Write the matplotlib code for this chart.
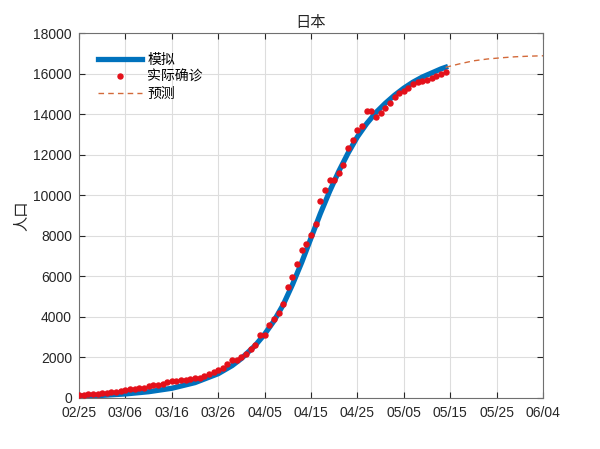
import numpy as np
import pandas as pd
import matplotlib
matplotlib.use("Agg")
import matplotlib.pyplot as plt
import matplotlib.dates as mdates

plt.rcParams['font.family'] = ['Liberation Sans', 'Noto Sans CJK SC', 'DejaVu Sans']

start_date = '2020-02-25'

# 实际确诊 (one value per day from 02/25)
confirmed = [150, 165, 185, 205, 220, 235, 255, 275, 300, 345,
             400, 420, 460, 500, 515, 580, 640, 650, 700, 770,
             830, 840, 875, 890, 925, 965, 1010, 1090, 1190, 1300,
             1390, 1470, 1700, 1860, 1870, 2000, 2150, 2420, 2620, 3100,
             3100, 3620, 3880, 4220, 4620, 5500, 5960, 6600, 7330, 7610,
             8060, 8590, 9750, 10270, 10770, 10780, 11110, 11520, 12350, 12760,
             13240, 13440, 14150, 14150, 13870, 14070, 14310, 14560, 14840, 15060,
             15150, 15330, 15500, 15600, 15640, 15720, 15800, 15880, 16010, 16120]

# 模拟 (day offset, value)
fit_days = [0, 5, 10, 15, 20, 25, 30, 33, 35, 38, 40, 42, 44, 46, 48, 50,
            52, 54, 56, 58, 60, 62, 64, 66, 68, 70, 72, 74, 76, 78, 79]
fit_vals = [90, 130, 200, 310, 480, 760, 1200, 1600, 1950, 2600, 3150, 3800,
            4600, 5600, 6700, 7900, 9100, 10200, 11200, 12100, 12900, 13550,
            14100, 14550, 14950, 15300, 15600, 15850, 16050, 16250, 16330]

# 预测 (day offset, value)
pred_days = [79, 82, 85, 88, 91, 94, 97, 100]
pred_vals = [16330, 16500, 16650, 16740, 16800, 16850, 16880, 16900]

t0 = pd.Timestamp(start_date)
conf_dates = pd.date_range(start_date, periods=len(confirmed), freq='D')
fit_dates = [t0 + pd.Timedelta(days=d) for d in fit_days]
pred_dates = [t0 + pd.Timedelta(days=d) for d in pred_days]

fig = plt.figure(figsize=(6.0, 4.49), dpi=100)
ax = fig.add_axes([0.1317, 0.1136, 0.7733, 0.8118])

ax.plot(fit_dates, fit_vals, color='#0072BD', linewidth=3.8, label='模拟', zorder=2)
ax.plot(conf_dates, confirmed, linestyle='none', marker='o', markersize=3.6,
        color='#E4101A', label='实际确诊', zorder=3)
ax.plot(pred_dates, pred_vals, linestyle='--', color='#D36A3A', linewidth=1.0,
        dashes=(4, 3), label='预测', zorder=2)

ax.set_xlim(t0, t0 + pd.Timedelta(days=100))
ax.set_ylim(0, 18000)
ax.set_xticks([t0 + pd.Timedelta(days=10 * i) for i in range(11)])
ax.xaxis.set_major_formatter(mdates.DateFormatter('%m/%d'))
ax.set_yticks(np.arange(0, 18001, 2000))

ax.grid(True, color='#dddddd', linewidth=0.8)
ax.set_axisbelow(True)
ax.tick_params(direction='in', length=4, top=True, right=True,
               labelsize=10, colors='#262626')
ax.tick_params(axis='x', pad=6)
ax.tick_params(axis='y', pad=5)
for s in ax.spines.values():
    s.set_color('#707070')
    s.set_linewidth(0.8)

ax.set_title('日本', fontsize=11, color='#262626', pad=5)
ax.set_ylabel('人口', fontsize=11, color='#262626', labelpad=3)

leg = ax.legend(loc='upper left', frameon=False, fontsize=10,
                handlelength=3.1, borderaxespad=0.9, labelspacing=0.2,
                handletextpad=0.4, borderpad=0.5)

fig.savefig('out.png', dpi=100)
